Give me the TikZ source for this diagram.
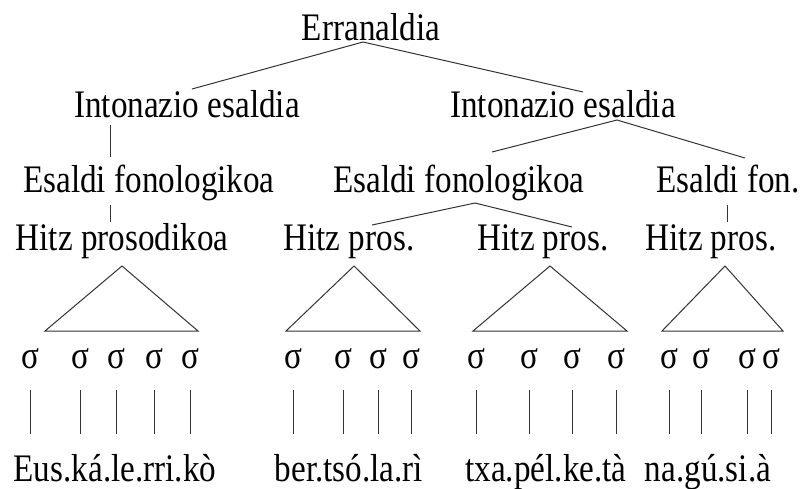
\documentclass[tikz,border=0pt]{standalone}
\usepackage{fontspec}
\setmainfont{Liberation Serif}[FakeStretch=0.85]
\usetikzlibrary{calc}
\begin{document}
\begin{tikzpicture}[x=1pt,y=-1pt,
  lbl/.style={anchor=base,inner sep=0pt,font=\fontsize{39}{46}\selectfont},
  edge/.style={draw=black!80,line width=1pt},
  syl/.style={lbl}]
\useasboundingbox (0,0) rectangle (804,488);

% sentence level
\node[lbl] (root) at (371,40) {Erranaldia};
\node[lbl] (ie1) at (187,117) {Intonazio esaldia};
\node[lbl] (ie2) at (563,117) {Intonazio esaldia};

% phonological phrases
\node[lbl] (ef1) at (149,192) {Esaldi fonologikoa};
\node[lbl] (ef2) at (459,192) {Esaldi fonologikoa};
\node[lbl] (ef3) at (728,192) {Esaldi fon.};

% prosodic words
\node[lbl] (hp1) at (122,250) {Hitz prosodikoa};
\node[lbl] (hp2) at (349,250) {Hitz pros.};
\node[lbl] (hp3) at (543,250) {Hitz pros.};
\node[lbl] (hp4) at (711,250) {Hitz pros.};

% branches
\draw[edge] ($(ie1.base)+(5,-28)$) -- ($(root.base)+(-8,2)$) -- ($(ie2.base)+(20,-25)$);
\draw[edge] ($(ie1.base)+(-77,8)$) -- ($(ef1.base)+(-39,-35)$);
\draw[edge] ($(ef2.base)+(33,-40)$) -- ($(ie2.base)+(54,3)$) -- ($(ef3.base)+(17,-34)$);
\draw[edge] ($(ef1.base)+(-39,13)$) -- ($(hp1.base)+(-12,-28)$);
\draw[edge] ($(hp2.base)+(23,-25)$) -- ($(ef2.base)+(16,11)$) -- ($(hp3.base)+(29,-23)$);
\draw[edge] ($(ef3.base)+(-1,13)$) -- ($(hp4.base)+(16,-28)$);

% triangles over the syllables
\coordinate (t1l) at (45,331);  \coordinate (t1r) at (198,331);
\coordinate (t2l) at (286,331); \coordinate (t2r) at (420,331);
\coordinate (t3l) at (473,331); \coordinate (t3r) at (627,331);
\coordinate (t4l) at (662,331); \coordinate (t4r) at (783,331);
\draw[edge,line join=miter] ($(hp1.base)+(0,16)$) -- (t1l) -- (t1r) -- cycle;
\draw[edge,line join=miter] ($(hp2.base)+(5,16)$) -- (t2l) -- (t2r) -- cycle;
\draw[edge,line join=miter] ($(hp3.base)+(7,16)$) -- (t3l) -- (t3r) -- cycle;
\draw[edge,line join=miter] ($(hp4.base)+(14,16)$) -- (t4l) -- (t4r) -- cycle;

% syllables and their association lines
\foreach \i/\x in {1/30,2/80,3/116,4/154,5/190,
                   6/293,7/343,8/378,9/411,
                   10/476,11/529,12/572,13/616,
                   14/669,15/701,16/747,17/771}{
  \node[syl] (s\i) at (\x,368) {σ};
  \draw[edge,line width=0.9pt] ($(s\i.base)+(0,22)$) -- ($(s\i.base)+(0,66)$);
}

% segmented words
\node[lbl] (w1) at (115,481) {Eus.ká.le.rri.kò};
\node[lbl] (w2) at (349,481) {ber.tsó.la.rì};
\node[lbl] (w3) at (546,481) {txa.pél.ke.tà};
\node[lbl] (w4) at (708,481) {na.gú.si.à};
\end{tikzpicture}
\end{document}
